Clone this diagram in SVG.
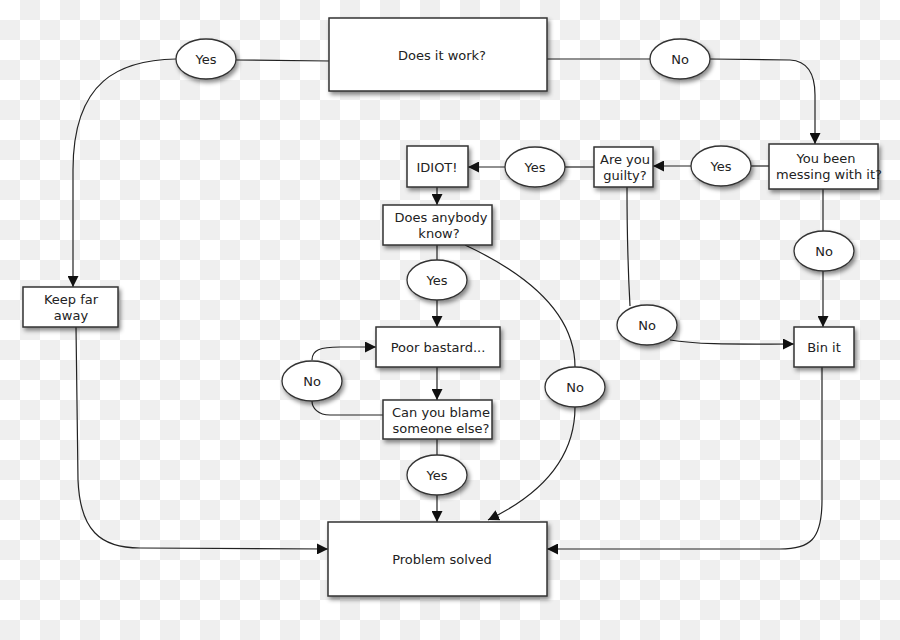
<svg xmlns="http://www.w3.org/2000/svg" width="900" height="640" viewBox="0 0 900 640">
<defs>
<pattern id="checker" x="0" y="0" width="40" height="40" patternUnits="userSpaceOnUse">
<rect width="40" height="40" fill="#ffffff"/>
<rect x="20" y="0" width="20" height="20" fill="#efefef"/>
<rect x="0" y="20" width="20" height="20" fill="#efefef"/>
</pattern>
<filter id="shadow" x="-20%" y="-20%" width="150%" height="160%">
<feDropShadow dx="2" dy="3" stdDeviation="2" flood-color="#000" flood-opacity="0.45"/>
</filter>
<marker id="arrow" viewBox="0 0 10 10" refX="10" refY="5" markerWidth="11" markerHeight="11" markerUnits="userSpaceOnUse" orient="auto">
<path d="M0,0 L10,5 L0,10 Z" fill="#111"/>
</marker>
<style>
.box{fill:#fff;stroke:#333;stroke-width:1.5;filter:url(#shadow)}
.oval{fill:#fff;stroke:#333;stroke-width:1.3;filter:url(#shadow)}
.lbl{font-family:"DejaVu Sans","Liberation Sans",sans-serif;font-size:13px;fill:#222;text-anchor:middle}
.edge{fill:none;stroke:#222;stroke-width:1.2}
.arr{marker-end:url(#arrow)}
</style>
</defs>
<rect width="900" height="640" fill="url(#checker)"/>

<g id="connectors">
<path class="edge" d="M330,61 L236,60"/>
<path class="edge arr" d="M176,59 C120,60 73,80 73,170 L73,287"/>
<path class="edge arr" d="M76,327 L78,480 C80,530 100,548 140,548 L328,549"/>
<path class="edge" d="M547,59 L650,59"/>
<path class="edge arr" d="M710,59 L790,60 C808,61 815,75 815,95 L815,144"/>
<path class="edge" d="M769,166 L751,166"/>
<path class="edge arr" d="M691,166 L653,166"/>
<path class="edge" d="M594,167 L565,167"/>
<path class="edge arr" d="M505,167 L468,167"/>
<path class="edge arr" d="M437,187 L437,205"/>
<path class="edge" d="M437,245 L437,260"/>
<path class="edge arr" d="M437,300 L437,327"/>
<path class="edge" d="M465,245 C540,280 575,320 575,367"/>
<path class="edge arr" d="M575,407 C575,460 540,495 488,520"/>
<path class="edge arr" d="M437,367 L437,400"/>
<path class="edge" d="M383,415 L330,415 C318,415 312,408 312,401"/>
<path class="edge arr" d="M312,360 C312,350 320,347 340,347 L376,347"/>
<path class="edge" d="M437,439 L437,455"/>
<path class="edge arr" d="M437,495 L437,522"/>
<path class="edge" d="M823,189 L823,231"/>
<path class="edge arr" d="M823,271 L823,327"/>
<path class="edge" d="M627,187 C627,230 628,270 630,306"/>
<path class="edge arr" d="M670,340 C700,345 740,344 794,344"/>
<path class="edge arr" d="M822,367 L822,500 C822,540 810,549 780,549 L547,549"/>
</g>

<g id="does-it-work"><rect class="box" x="329" y="18" width="218" height="73"/><text class="lbl" x="442" y="60">Does it work?</text></g>
<g id="yes-1"><ellipse class="oval" cx="206" cy="59" rx="30" ry="20"/><text class="lbl" x="206" y="64">Yes</text></g>
<g id="no-1"><ellipse class="oval" cx="680" cy="59" rx="30" ry="20"/><text class="lbl" x="680" y="64">No</text></g>
<g id="keep-far-away"><rect class="box" x="23" y="287" width="95" height="40"/><text class="lbl" x="71" y="304">Keep far</text><text class="lbl" x="71" y="320">away</text></g>
<g id="messing"><rect class="box" x="769" y="144" width="109" height="45"/><text class="lbl" x="826" y="163">You been</text><text class="lbl" x="829" y="179">messing with it?</text></g>
<g id="yes-2"><ellipse class="oval" cx="721" cy="166" rx="30" ry="20"/><text class="lbl" x="721" y="171">Yes</text></g>
<g id="guilty"><rect class="box" x="594" y="147" width="59" height="40"/><text class="lbl" x="625" y="164">Are you</text><text class="lbl" x="625" y="180">guilty?</text></g>
<g id="yes-3"><ellipse class="oval" cx="535" cy="167" rx="30" ry="20"/><text class="lbl" x="535" y="172">Yes</text></g>
<g id="idiot"><rect class="box" x="407" y="146" width="61" height="41"/><text class="lbl" x="437" y="172">IDIOT!</text></g>
<g id="does-anybody-know"><rect class="box" x="383" y="205" width="109" height="40"/><text class="lbl" x="441" y="222">Does anybody</text><text class="lbl" x="439" y="238">know?</text></g>
<g id="yes-4"><ellipse class="oval" cx="437" cy="280" rx="30" ry="20"/><text class="lbl" x="437" y="285">Yes</text></g>
<g id="no-2"><ellipse class="oval" cx="575" cy="387" rx="30" ry="20"/><text class="lbl" x="575" y="392">No</text></g>
<g id="poor-bastard"><rect class="box" x="376" y="327" width="124" height="40"/><text class="lbl" x="438" y="352">Poor bastard...</text></g>
<g id="no-3"><ellipse class="oval" cx="312" cy="381" rx="30" ry="20"/><text class="lbl" x="312" y="386">No</text></g>
<g id="blame"><rect class="box" x="383" y="400" width="109" height="39"/><text class="lbl" x="441" y="417">Can you blame</text><text class="lbl" x="441" y="433">someone else?</text></g>
<g id="yes-5"><ellipse class="oval" cx="437" cy="475" rx="30" ry="20"/><text class="lbl" x="437" y="480">Yes</text></g>
<g id="no-4"><ellipse class="oval" cx="824" cy="251" rx="30" ry="20"/><text class="lbl" x="824" y="256">No</text></g>
<g id="no-5"><ellipse class="oval" cx="647" cy="325" rx="30" ry="20"/><text class="lbl" x="647" y="330">No</text></g>
<g id="bin-it"><rect class="box" x="794" y="327" width="60" height="40"/><text class="lbl" x="824" y="352">Bin it</text></g>
<g id="problem-solved"><rect class="box" x="328" y="522" width="219" height="74"/><text class="lbl" x="442" y="564">Problem solved</text></g>
</svg>
